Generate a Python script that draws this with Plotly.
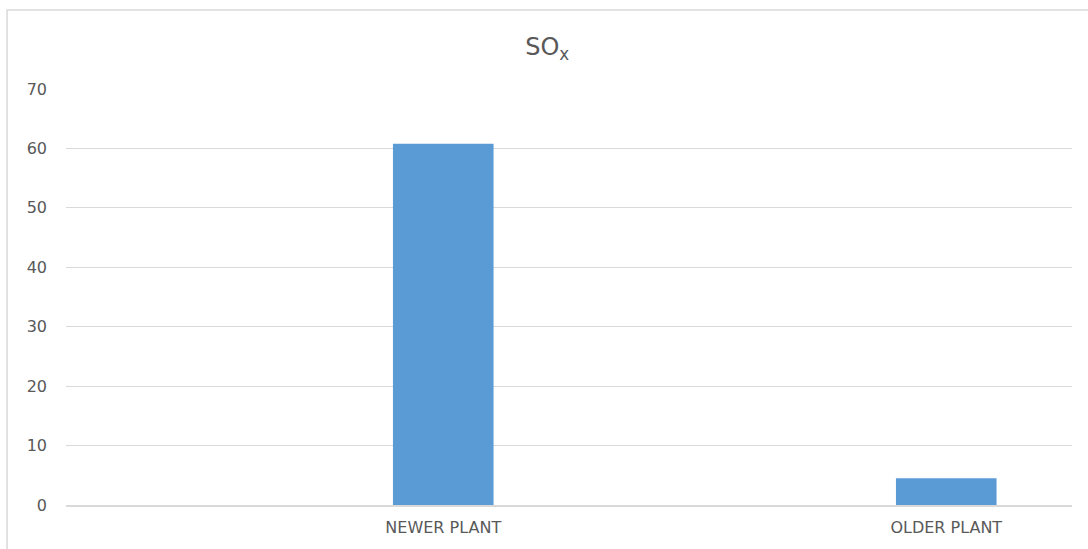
import plotly.graph_objects as go

categories = ["NEWER PLANT", "OLDER PLANT"]
values = [60.8, 4.5]
y_ticks = [0, 10, 20, 30, 40, 50, 60, 70]

fig = go.Figure()
fig.add_trace(go.Bar(
    x=categories, y=values,
    marker=dict(color="#5B9BD5", line=dict(width=0)),
    width=0.2,
))

font_family = "'DejaVu Sans', sans-serif"
fig.update_layout(
    width=1088, height=549,
    margin=dict(l=66, r=16, t=89, b=44),
    paper_bgcolor="white", plot_bgcolor="white",
    showlegend=False,
    font=dict(family=font_family, size=16, color="#595959"),
    title=dict(text="SO<sub>x</sub>", x=0.503, xanchor="center",
               y=0.915, yanchor="middle",
               font=dict(family=font_family, size=24, color="#595959")),
    xaxis=dict(range=[-0.75, 1.25], showgrid=False, showline=True,
               linecolor="#d9d9d9", linewidth=1.5, ticks="",
               tickfont=dict(size=16, color="#595959"), ticklabelstandoff=7,
               zeroline=False, automargin=False),
    yaxis=dict(range=[0, 70], tickvals=y_ticks, showgrid=True,
               gridcolor="#d9d9d9", gridwidth=1, showline=False,
               zeroline=False, ticks="", ticklabelstandoff=18,
               tickfont=dict(size=16, color="#595959"), automargin=False),
    shapes=[dict(type="rect", xref="paper", yref="paper",
                 x0=-0.0586, x1=1.2, y0=-0.3, y1=1.19,
                 line=dict(color="#d9d9d9", width=1.5), layer="below")],
)

fig.write_html("out.html")
